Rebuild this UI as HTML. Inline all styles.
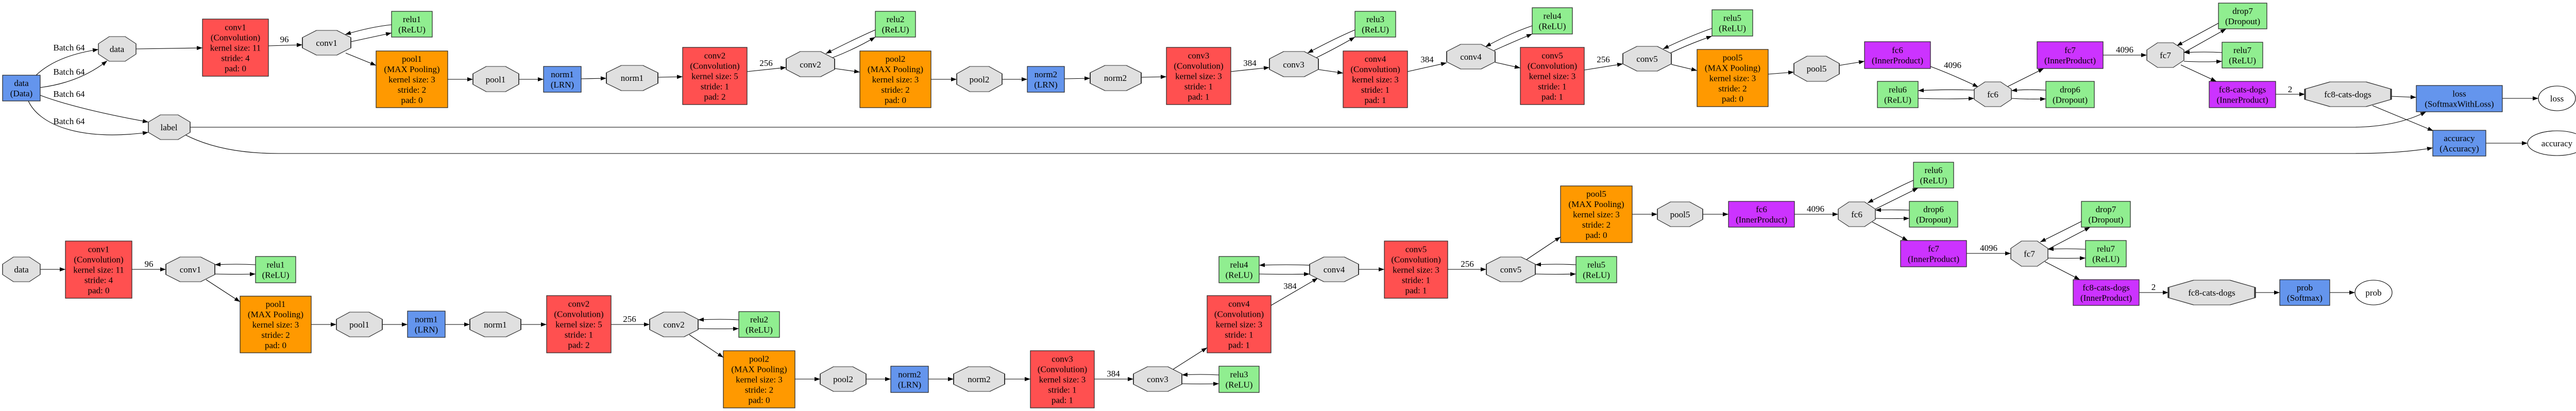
<!DOCTYPE html>
<html><head><meta charset="utf-8"><style>
html,body{margin:0;padding:0;background:#fff;}
svg{display:block;}
text{font-family:"Liberation Serif","DejaVu Serif",serif;font-size:17px;text-anchor:middle;fill:#000;}
.r{stroke:#222;stroke-width:1.2;}
.o{fill:#e0e0e0;stroke:#333;stroke-width:1.2;}
.e{fill:none;stroke:#000;stroke-width:1.1;marker-end:url(#a);}
.red{fill:#ff5050}.org{fill:#ff9900}.grn{fill:#90ee90}.blu{fill:#6495ed}.pur{fill:#cc33ff}
</style></head><body>
<svg width="5024" height="798" viewBox="0 0 5024 798" xmlns="http://www.w3.org/2000/svg">
<defs>
<marker id="a" markerUnits="userSpaceOnUse" markerWidth="11" markerHeight="8" refX="11" refY="4" orient="auto"><path d="M0,0 L11,4 L0,8 z" fill="#000"/></marker>
<polygon id="oc" points="0.29,0 0.71,0 1,0.29 1,0.71 0.71,1 0.29,1 0,0.71 0,0.29"/>
</defs>
<rect width="5024" height="798" fill="#fff"/>

<!-- ============ EDGES TOP ============ -->
<g>
<path class="e" d="M70,146 Q110,108 191,96"/>
<path class="e" d="M78,170 Q155,160 208,118"/>
<path class="e" d="M78,185 Q150,212 288,237"/>
<path class="e" d="M55,196 C75,240 150,275 288,257"/>
<path class="e" d="M264,95 L393,93"/>
<path class="e" d="M521,89 L587,87"/>
<path class="e" d="M760,48 Q720,52 670,67"/>
<path class="e" d="M681,81 L760,64"/>
<path class="e" d="M671,103 L730,127"/>
<path class="e" d="M869,154 L918,154"/>
<path class="e" d="M1007,154 L1055,154"/>
<path class="e" d="M1128,153 L1177,152"/>
<path class="e" d="M1277,150 L1325,149"/>
<path class="e" d="M1450,139 L1526,131"/>
<path class="e" d="M1699,58 Q1660,75 1603,104"/>
<path class="e" d="M1616,112 Q1660,95 1699,72"/>
<path class="e" d="M1620,133 L1669,140"/>
<path class="e" d="M1807,154 L1857,154"/>
<path class="e" d="M1945,154 L1994,154"/>
<path class="e" d="M2066,153 L2116,152"/>
<path class="e" d="M2215,150 L2264,149"/>
<path class="e" d="M2389,139 L2464,131"/>
<path class="e" d="M2630,58 Q2590,75 2538,103"/>
<path class="e" d="M2555,112 Q2590,95 2630,72"/>
<path class="e" d="M2559,135 L2607,142"/>
<path class="e" d="M2732,139 L2808,122"/>
<path class="e" d="M2974,50 Q2930,65 2883,91"/>
<path class="e" d="M2900,98 Q2940,80 2974,66"/>
<path class="e" d="M2902,121 L2951,132"/>
<path class="e" d="M3075,136 L3150,124"/>
<path class="e" d="M3323,55 Q3280,70 3228,95"/>
<path class="e" d="M3242,103 Q3280,85 3323,70"/>
<path class="e" d="M3244,125 L3294,137"/>
<path class="e" d="M3432,144 L3482,140"/>
<path class="e" d="M3570,127 L3619,119"/>
<path class="e" d="M3747,129 Q3790,145 3840,169"/>
<path class="e" d="M3832,175 Q3780,173 3723,176"/>
<path class="e" d="M3723,191 Q3780,193 3832,191"/>
<path class="e" d="M3971,175 Q3935,173 3904,176"/>
<path class="e" d="M3904,191 Q3935,193 3971,192"/>
<path class="e" d="M3897,168 L3967,133"/>
<path class="e" d="M4082,107 L4167,107"/>
<path class="e" d="M4306,45 L4225,89"/>
<path class="e" d="M4239,102 L4321,56"/>
<path class="e" d="M4313,102 Q4280,100 4239,102"/>
<path class="e" d="M4239,119 Q4280,121 4313,119"/>
<path class="e" d="M4233,126 L4302,158"/>
<path class="e" d="M4417,183 L4474,183"/>
<path class="e" d="M4641,187 L4690,189"/>
<path class="e" d="M4605,205 L4723,254"/>
<path class="e" d="M4857,191 L4927,191"/>
<path class="e" d="M4825,278 L4906,278"/>
<path class="e" d="M369,247 L4565,247 Q4650,247 4709,217"/>
<path class="e" d="M360,262 Q430,298 540,298 L4565,298 Q4660,298 4722,287"/>
</g>

<!-- ============ EDGES BOTTOM ============ -->
<g>
<path class="e" d="M78,523 L127,523"/>
<path class="e" d="M256,523 L322,523"/>
<path class="e" d="M496,514 Q460,512 417,514"/>
<path class="e" d="M417,532 Q460,533 496,532"/>
<path class="e" d="M400,543 L466,586"/>
<path class="e" d="M604,630 L653,630"/>
<path class="e" d="M742,630 L791,630"/>
<path class="e" d="M864,630 L912,630"/>
<path class="e" d="M1011,630 L1061,630"/>
<path class="e" d="M1186,630 L1261,630"/>
<path class="e" d="M1434,621 Q1400,619 1355,621"/>
<path class="e" d="M1355,638 Q1400,639 1434,638"/>
<path class="e" d="M1338,650 L1404,694"/>
<path class="e" d="M1543,736 L1592,736"/>
<path class="e" d="M1681,736 L1729,736"/>
<path class="e" d="M1802,736 L1851,736"/>
<path class="e" d="M1950,736 L2000,736"/>
<path class="e" d="M2124,736 L2200,736"/>
<path class="e" d="M2366,728 Q2330,726 2294,728"/>
<path class="e" d="M2294,745 Q2330,746 2366,745"/>
<path class="e" d="M2277,717 L2343,675"/>
<path class="e" d="M2467,593 L2558,540"/>
<path class="e" d="M2542,515 Q2500,513 2444,515"/>
<path class="e" d="M2444,532 Q2500,533 2542,532"/>
<path class="e" d="M2637,523 L2687,523"/>
<path class="e" d="M2810,523 L2885,523"/>
<path class="e" d="M3059,514 Q3020,512 2980,514"/>
<path class="e" d="M2980,532 Q3020,533 3059,532"/>
<path class="e" d="M2963,504 L3029,460"/>
<path class="e" d="M3168,416 L3217,416"/>
<path class="e" d="M3305,416 L3355,416"/>
<path class="e" d="M3483,416 L3568,416"/>
<path class="e" d="M3714,350 Q3680,365 3625,394"/>
<path class="e" d="M3640,406 L3723,365"/>
<path class="e" d="M3706,408 Q3670,407 3640,408"/>
<path class="e" d="M3640,424 Q3670,425 3706,424"/>
<path class="e" d="M3634,431 L3703,467"/>
<path class="e" d="M3817,492 L3903,492"/>
<path class="e" d="M4040,430 Q4010,445 3960,470"/>
<path class="e" d="M3975,484 L4057,441"/>
<path class="e" d="M4048,484 Q4010,482 3975,484"/>
<path class="e" d="M3975,501 Q4010,502 4048,501"/>
<path class="e" d="M3969,508 L4037,543"/>
<path class="e" d="M4152,568 L4209,568"/>
<path class="e" d="M4377,568 L4425,568"/>
<path class="e" d="M4522,568 L4571,568"/>
</g>

<!-- edge labels -->
<g>
<text x="134" y="98">Batch 64</text>
<text x="134" y="145">Batch 64</text>
<text x="134" y="188">Batch 64</text>
<text x="134" y="241">Batch 64</text>
<text x="552" y="82">96</text>
<text x="1487" y="128">256</text>
<text x="2426" y="128">384</text>
<text x="2770" y="121">384</text>
<text x="3112" y="121">256</text>
<text x="3790" y="132">4096</text>
<text x="4124" y="102">4096</text>
<text x="4445" y="179">2</text>
<text x="289" y="518">96</text>
<text x="1222" y="625">256</text>
<text x="2161" y="731">384</text>
<text x="2504" y="561">384</text>
<text x="2848" y="518">256</text>
<text x="3524" y="411">4096</text>
<text x="3860" y="487">4096</text>
<text x="4180" y="563">2</text>
</g>

<!-- ============ NODES TOP ============ -->
<g>
<rect class="r blu" x="5" y="146" width="73" height="50"/><text x="41.5" y="167">data</text><text x="41.5" y="187">(Data)</text>
<use href="#oc" class="o" transform="translate(191,71) scale(73,48)" vector-effect="non-scaling-stroke" style="stroke-width:0.02"/><text x="227" y="101">data</text>
<use href="#oc" class="o" transform="translate(288,223) scale(81,48)" style="stroke-width:0.02"/><text x="328" y="253">label</text>
<rect class="r red" x="393" y="37" width="128" height="111"/><text x="457" y="58.5">conv1</text><text x="457" y="78.5">(Convolution)</text><text x="457" y="98.5">kernel size: 11</text><text x="457" y="118.5">stride: 4</text><text x="457" y="138.5">pad: 0</text>
<use href="#oc" class="o" transform="translate(587,59) scale(94,48)" style="stroke-width:0.02"/><text x="634" y="89">conv1</text>
<rect class="r grn" x="760" y="22" width="79" height="50"/><text x="799.5" y="43">relu1</text><text x="799.5" y="63">(ReLU)</text>
<rect class="r org" x="730" y="99" width="139" height="110"/><text x="799.5" y="120">pool1</text><text x="799.5" y="140">(MAX Pooling)</text><text x="799.5" y="160">kernel size: 3</text><text x="799.5" y="180">stride: 2</text><text x="799.5" y="200">pad: 0</text>
<use href="#oc" class="o" transform="translate(918,129) scale(89,49)" style="stroke-width:0.02"/><text x="962" y="160">pool1</text>
<rect class="r blu" x="1055" y="129" width="73" height="50"/><text x="1091.5" y="150">norm1</text><text x="1091.5" y="170">(LRN)</text>
<use href="#oc" class="o" transform="translate(1177,127) scale(100,49)" style="stroke-width:0.02"/><text x="1227" y="157">norm1</text>
<rect class="r red" x="1325" y="92" width="125" height="111"/><text x="1387.5" y="113.5">conv2</text><text x="1387.5" y="133.5">(Convolution)</text><text x="1387.5" y="153.5">kernel size: 5</text><text x="1387.5" y="173.5">stride: 1</text><text x="1387.5" y="193.5">pad: 2</text>
<use href="#oc" class="o" transform="translate(1526,100) scale(94,49)" style="stroke-width:0.02"/><text x="1573" y="131">conv2</text>
<rect class="r grn" x="1699" y="22" width="78" height="50"/><text x="1738" y="43">relu2</text><text x="1738" y="63">(ReLU)</text>
<rect class="r org" x="1669" y="99" width="138" height="110"/><text x="1738" y="120">pool2</text><text x="1738" y="140">(MAX Pooling)</text><text x="1738" y="160">kernel size: 3</text><text x="1738" y="180">stride: 2</text><text x="1738" y="200">pad: 0</text>
<use href="#oc" class="o" transform="translate(1857,129) scale(88,49)" style="stroke-width:0.02"/><text x="1901" y="160">pool2</text>
<rect class="r blu" x="1994" y="129" width="72" height="50"/><text x="2030" y="150">norm2</text><text x="2030" y="170">(LRN)</text>
<use href="#oc" class="o" transform="translate(2116,127) scale(99,49)" style="stroke-width:0.02"/><text x="2165" y="157">norm2</text>
<rect class="r red" x="2264" y="92" width="125" height="111"/><text x="2326.5" y="113.5">conv3</text><text x="2326.5" y="133.5">(Convolution)</text><text x="2326.5" y="153.5">kernel size: 3</text><text x="2326.5" y="173.5">stride: 1</text><text x="2326.5" y="193.5">pad: 1</text>
<use href="#oc" class="o" transform="translate(2464,100) scale(95,49)" style="stroke-width:0.02"/><text x="2511" y="131">conv3</text>
<rect class="r grn" x="2630" y="22" width="79" height="50"/><text x="2669.5" y="43">relu3</text><text x="2669.5" y="63">(ReLU)</text>
<rect class="r red" x="2607" y="99" width="125" height="110"/><text x="2669.5" y="120">conv4</text><text x="2669.5" y="140">(Convolution)</text><text x="2669.5" y="160">kernel size: 3</text><text x="2669.5" y="180">stride: 1</text><text x="2669.5" y="200">pad: 1</text>
<use href="#oc" class="o" transform="translate(2808,86) scale(94,48)" style="stroke-width:0.02"/><text x="2855" y="116">conv4</text>
<rect class="r grn" x="2974" y="15" width="78" height="51"/><text x="3013" y="36.5">relu4</text><text x="3013" y="56.5">(ReLU)</text>
<rect class="r red" x="2951" y="92" width="124" height="111"/><text x="3013" y="113.5">conv5</text><text x="3013" y="133.5">(Convolution)</text><text x="3013" y="153.5">kernel size: 3</text><text x="3013" y="173.5">stride: 1</text><text x="3013" y="193.5">pad: 1</text>
<use href="#oc" class="o" transform="translate(3150,90) scale(94,48)" style="stroke-width:0.02"/><text x="3197" y="120">conv5</text>
<rect class="r grn" x="3323" y="19" width="79" height="51"/><text x="3362.5" y="40.5">relu5</text><text x="3362.5" y="60.5">(ReLU)</text>
<rect class="r org" x="3294" y="96" width="138" height="111"/><text x="3363" y="117.5">pool5</text><text x="3363" y="137.5">(MAX Pooling)</text><text x="3363" y="157.5">kernel size: 3</text><text x="3363" y="177.5">stride: 2</text><text x="3363" y="197.5">pad: 0</text>
<use href="#oc" class="o" transform="translate(3482,109) scale(88,49)" style="stroke-width:0.02"/><text x="3526" y="139">pool5</text>
<rect class="r pur" x="3619" y="81" width="128" height="52"/><text x="3683" y="103">fc6</text><text x="3683" y="123">(InnerProduct)</text>
<rect class="r grn" x="3644" y="158" width="79" height="51"/><text x="3683.5" y="179.5">relu6</text><text x="3683.5" y="199.5">(ReLU)</text>
<use href="#oc" class="o" transform="translate(3832,159) scale(72,48)" style="stroke-width:0.02"/><text x="3868" y="189">fc6</text>
<rect class="r grn" x="3971" y="158" width="94" height="51"/><text x="4018" y="179.5">drop6</text><text x="4018" y="199.5">(Dropout)</text>
<rect class="r pur" x="3954" y="81" width="128" height="52"/><text x="4018" y="103">fc7</text><text x="4018" y="123">(InnerProduct)</text>
<use href="#oc" class="o" transform="translate(4167,83) scale(72,48)" style="stroke-width:0.02"/><text x="4203" y="113">fc7</text>
<rect class="r grn" x="4306" y="6" width="94" height="50"/><text x="4353" y="27">drop7</text><text x="4353" y="47">(Dropout)</text>
<rect class="r grn" x="4313" y="82" width="79" height="50"/><text x="4352.5" y="103">relu7</text><text x="4352.5" y="123">(ReLU)</text>
<rect class="r pur" x="4288" y="158" width="129" height="51"/><text x="4352.5" y="179.5">fc8-cats-dogs</text><text x="4352.5" y="199.5">(InnerProduct)</text>
<use href="#oc" class="o" transform="translate(4474,159) scale(167,48)" style="stroke-width:0.02"/><text x="4557" y="189">fc8-cats-dogs</text>
<rect class="r blu" x="4690" y="166" width="167" height="51"/><text x="4773.5" y="187.5">loss</text><text x="4773.5" y="207.5">(SoftmaxWithLoss)</text>
<ellipse cx="4963" cy="191" rx="36" ry="24" fill="#fff" stroke="#000" stroke-width="1.1"/><text x="4963" y="197">loss</text>
<rect class="r blu" x="4722" y="253" width="103" height="50"/><text x="4773.5" y="274">accuracy</text><text x="4773.5" y="294">(Accuracy)</text>
<ellipse cx="4963" cy="278" rx="57" ry="24" fill="#fff" stroke="#000" stroke-width="1.1"/><text x="4963" y="284">accuracy</text>
</g>

<!-- ============ NODES BOTTOM ============ -->
<g>
<use href="#oc" class="o" transform="translate(5,499) scale(73,48)" style="stroke-width:0.02"/><text x="41.5" y="529">data</text>
<rect class="r red" x="127" y="468" width="129" height="111"/><text x="191.5" y="489.5">conv1</text><text x="191.5" y="509.5">(Convolution)</text><text x="191.5" y="529.5">kernel size: 11</text><text x="191.5" y="549.5">stride: 4</text><text x="191.5" y="569.5">pad: 0</text>
<use href="#oc" class="o" transform="translate(322,499) scale(95,48)" style="stroke-width:0.02"/><text x="369.5" y="529">conv1</text>
<rect class="r grn" x="496" y="498" width="78" height="51"/><text x="535" y="519.5">relu1</text><text x="535" y="539.5">(ReLU)</text>
<rect class="r org" x="466" y="575" width="138" height="110"/><text x="535" y="596">pool1</text><text x="535" y="616">(MAX Pooling)</text><text x="535" y="636">kernel size: 3</text><text x="535" y="656">stride: 2</text><text x="535" y="676">pad: 0</text>
<use href="#oc" class="o" transform="translate(653,606) scale(89,48)" style="stroke-width:0.02"/><text x="697.5" y="636">pool1</text>
<rect class="r blu" x="791" y="604" width="73" height="51"/><text x="827.5" y="625.5">norm1</text><text x="827.5" y="645.5">(LRN)</text>
<use href="#oc" class="o" transform="translate(912,606) scale(99,48)" style="stroke-width:0.02"/><text x="961.5" y="636">norm1</text>
<rect class="r red" x="1061" y="574" width="125" height="111"/><text x="1123.5" y="595.5">conv2</text><text x="1123.5" y="615.5">(Convolution)</text><text x="1123.5" y="635.5">kernel size: 5</text><text x="1123.5" y="655.5">stride: 1</text><text x="1123.5" y="675.5">pad: 2</text>
<use href="#oc" class="o" transform="translate(1261,606) scale(94,48)" style="stroke-width:0.02"/><text x="1308" y="636">conv2</text>
<rect class="r grn" x="1434" y="605" width="79" height="50"/><text x="1473.5" y="626">relu2</text><text x="1473.5" y="646">(ReLU)</text>
<rect class="r org" x="1404" y="681" width="139" height="111"/><text x="1473.5" y="702.5">pool2</text><text x="1473.5" y="722.5">(MAX Pooling)</text><text x="1473.5" y="742.5">kernel size: 3</text><text x="1473.5" y="762.5">stride: 2</text><text x="1473.5" y="782.5">pad: 0</text>
<use href="#oc" class="o" transform="translate(1592,712) scale(89,48)" style="stroke-width:0.02"/><text x="1636.5" y="742">pool2</text>
<rect class="r blu" x="1729" y="711" width="73" height="51"/><text x="1765.5" y="732.5">norm2</text><text x="1765.5" y="752.5">(LRN)</text>
<use href="#oc" class="o" transform="translate(1851,712) scale(99,48)" style="stroke-width:0.02"/><text x="1900.5" y="742">norm2</text>
<rect class="r red" x="2000" y="681" width="124" height="111"/><text x="2062" y="702.5">conv3</text><text x="2062" y="722.5">(Convolution)</text><text x="2062" y="742.5">kernel size: 3</text><text x="2062" y="762.5">stride: 1</text><text x="2062" y="782.5">pad: 1</text>
<use href="#oc" class="o" transform="translate(2200,712) scale(94,48)" style="stroke-width:0.02"/><text x="2247" y="742">conv3</text>
<rect class="r grn" x="2366" y="711" width="78" height="51"/><text x="2405" y="732.5">relu3</text><text x="2405" y="752.5">(ReLU)</text>
<rect class="r red" x="2343" y="574" width="124" height="111"/><text x="2405" y="595.5">conv4</text><text x="2405" y="615.5">(Convolution)</text><text x="2405" y="635.5">kernel size: 3</text><text x="2405" y="655.5">stride: 1</text><text x="2405" y="675.5">pad: 1</text>
<rect class="r grn" x="2366" y="498" width="78" height="51"/><text x="2405" y="519.5">relu4</text><text x="2405" y="539.5">(ReLU)</text>
<use href="#oc" class="o" transform="translate(2542,499) scale(95,48)" style="stroke-width:0.02"/><text x="2589.5" y="529">conv4</text>
<rect class="r red" x="2687" y="468" width="123" height="111"/><text x="2748.5" y="489.5">conv5</text><text x="2748.5" y="509.5">(Convolution)</text><text x="2748.5" y="529.5">kernel size: 3</text><text x="2748.5" y="549.5">stride: 1</text><text x="2748.5" y="569.5">pad: 1</text>
<use href="#oc" class="o" transform="translate(2885,499) scale(95,48)" style="stroke-width:0.02"/><text x="2932.5" y="529">conv5</text>
<rect class="r grn" x="3059" y="498" width="79" height="51"/><text x="3098.5" y="519.5">relu5</text><text x="3098.5" y="539.5">(ReLU)</text>
<rect class="r org" x="3029" y="361" width="139" height="110"/><text x="3098.5" y="382">pool5</text><text x="3098.5" y="402">(MAX Pooling)</text><text x="3098.5" y="422">kernel size: 3</text><text x="3098.5" y="442">stride: 2</text><text x="3098.5" y="462">pad: 0</text>
<use href="#oc" class="o" transform="translate(3217,392) scale(88,48)" style="stroke-width:0.02"/><text x="3261" y="422">pool5</text>
<rect class="r pur" x="3355" y="391" width="128" height="50"/><text x="3419" y="412">fc6</text><text x="3419" y="432">(InnerProduct)</text>
<use href="#oc" class="o" transform="translate(3568,392) scale(72,48)" style="stroke-width:0.02"/><text x="3604" y="422">fc6</text>
<rect class="r grn" x="3714" y="315" width="78" height="50"/><text x="3753" y="336">relu6</text><text x="3753" y="356">(ReLU)</text>
<rect class="r grn" x="3706" y="391" width="94" height="50"/><text x="3753" y="412">drop6</text><text x="3753" y="432">(Dropout)</text>
<rect class="r pur" x="3689" y="467" width="128" height="51"/><text x="3753" y="488.5">fc7</text><text x="3753" y="508.5">(InnerProduct)</text>
<use href="#oc" class="o" transform="translate(3903,468) scale(72,49)" style="stroke-width:0.02"/><text x="3939" y="498.5">fc7</text>
<rect class="r grn" x="4040" y="391" width="95" height="50"/><text x="4087.5" y="412">drop7</text><text x="4087.5" y="432">(Dropout)</text>
<rect class="r grn" x="4048" y="467" width="79" height="51"/><text x="4087.5" y="488.5">relu7</text><text x="4087.5" y="508.5">(ReLU)</text>
<rect class="r pur" x="4024" y="543" width="128" height="50"/><text x="4088" y="564">fc8-cats-dogs</text><text x="4088" y="584">(InnerProduct)</text>
<use href="#oc" class="o" transform="translate(4209,544) scale(168,48)" style="stroke-width:0.02"/><text x="4293" y="574">fc8-cats-dogs</text>
<rect class="r blu" x="4425" y="543" width="97" height="50"/><text x="4473.5" y="564">prob</text><text x="4473.5" y="584">(Softmax)</text>
<ellipse cx="4607" cy="568" rx="36" ry="24" fill="#fff" stroke="#000" stroke-width="1.1"/><text x="4607" y="574">prob</text>
</g>
</svg>
</body></html>
